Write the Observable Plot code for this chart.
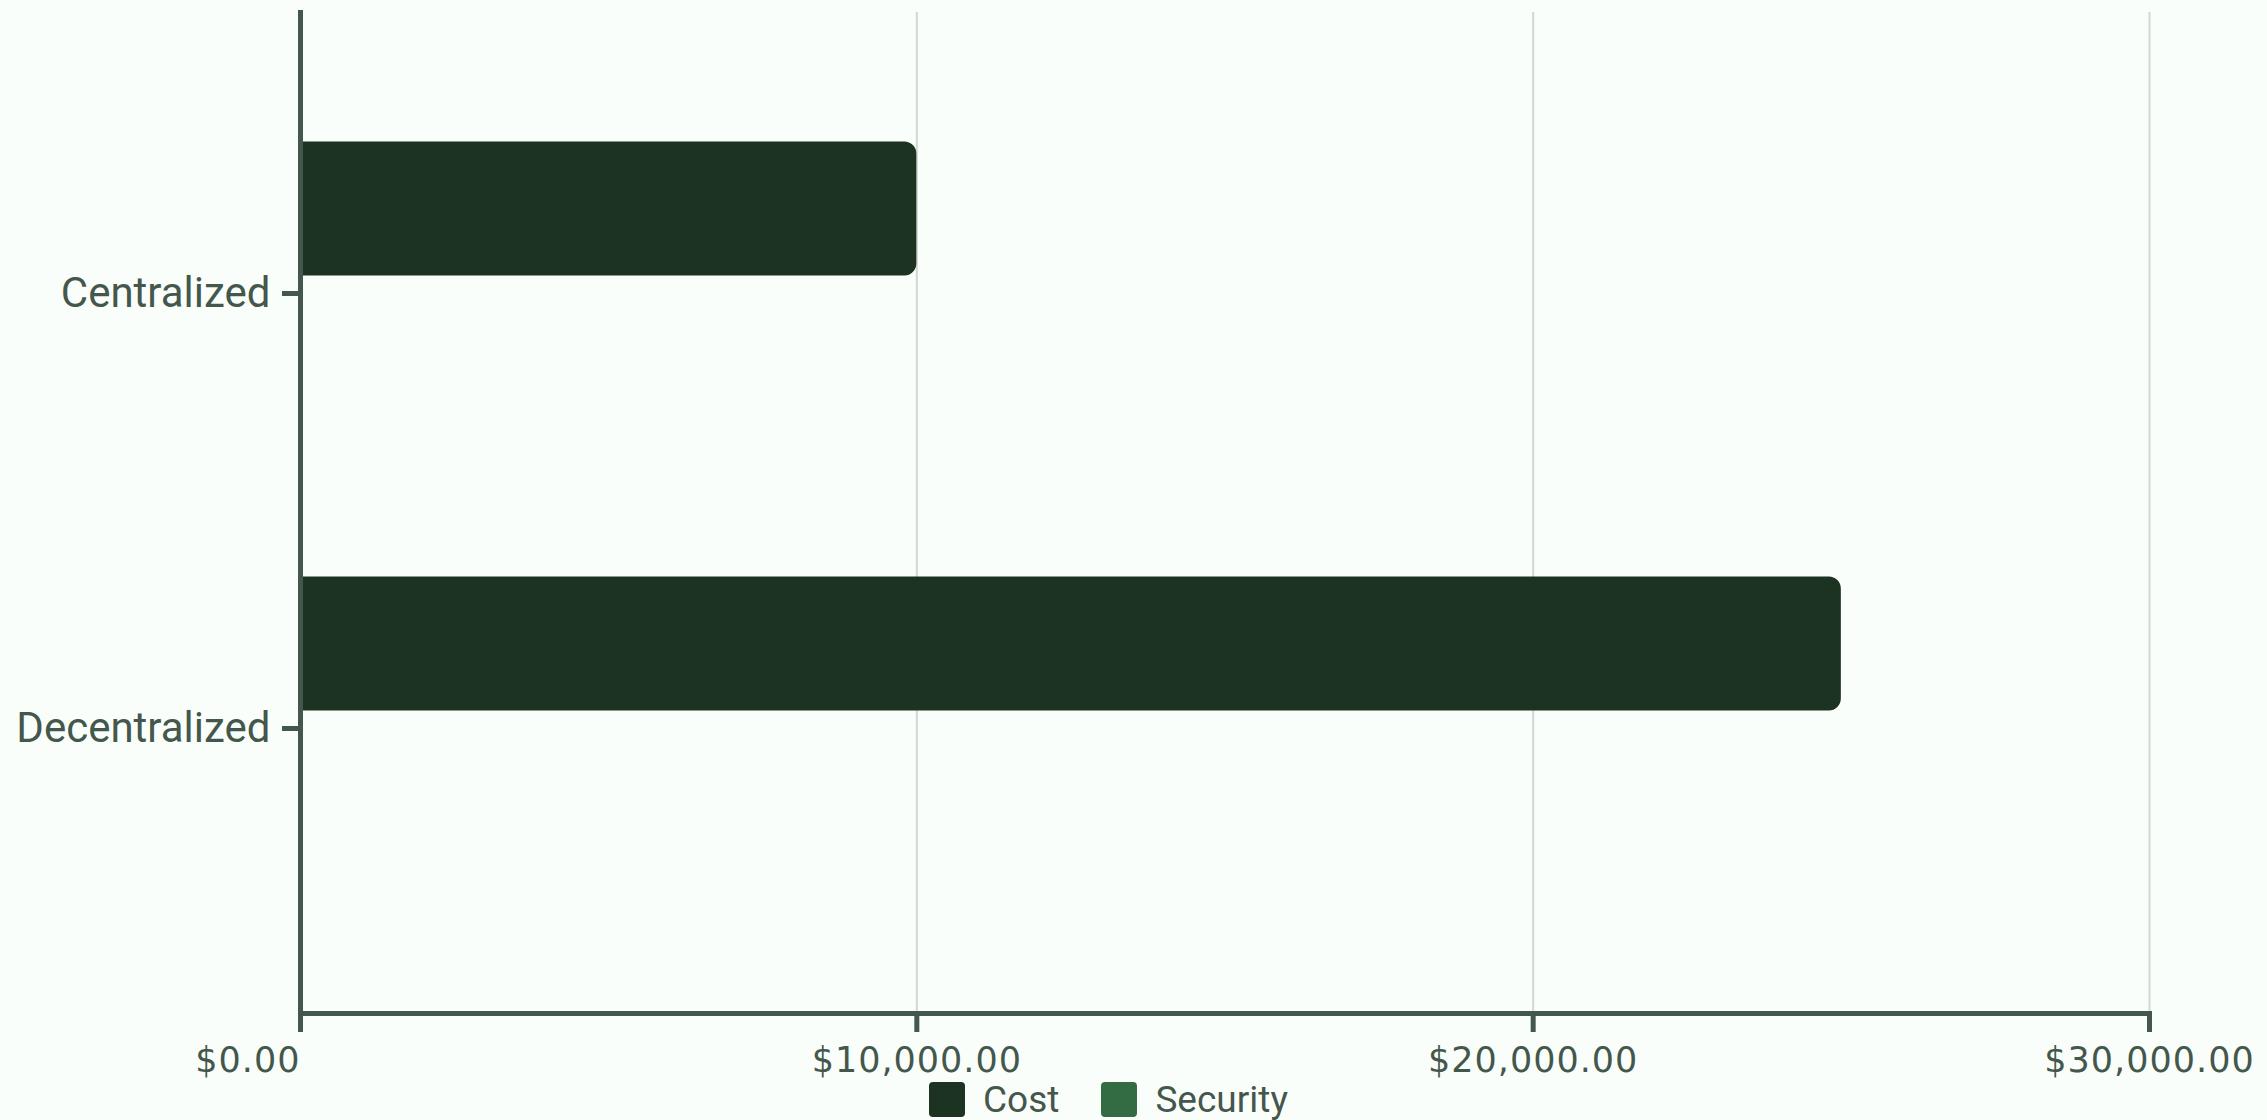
<!DOCTYPE html>
<html><head><meta charset="utf-8">
<script src="https://cdn.jsdelivr.net/npm/d3@7"></script>
<script src="https://cdn.jsdelivr.net/npm/@observablehq/plot@0.6"></script>
<style>
html,body{margin:0;padding:0;background:#fafefa;overflow:hidden;}
#wrap{position:relative;width:2267px;height:1120px;}
#legend{position:absolute;left:929px;top:1082px;height:35px;display:flex;align-items:center;font-family:Roboto,sans-serif;font-size:37px;color:#44574c;}
#legend .item{display:flex;align-items:center;margin-right:42px;}
#legend .sw{width:36px;height:35px;border-radius:4px;margin-right:18px;}
</style></head><body><div id="wrap"><div id="chart"></div><div id="legend"></div></div>
<script>
const categories = ["Centralized", "Decentralized"];
const series = ["Cost", "Security"];
const costValues = [10000, 25000];
const securityValues = [null, null];
const xTicks = [0, 10000, 20000, 30000];
const seriesColors = ["#1b3320", "#336b42"];

const axisColor = "#44574c";
const fmt = d3.format("$,.2f");

const costData = categories.map((c, i) => ({category: c, series: "Cost", value: costValues[i]}));
const secData = categories.map((c, i) => ({category: c, series: "Security", value: securityValues[i]})).filter(d => d.value != null);

const xAxisOpts = {tickFormat: fmt, tickSize: 19, tickPadding: 15, fontSize: 35, fontFamily: "DejaVu Sans", color: axisColor, strokeWidth: 5};

const plot = Plot.plot({
  width: 2267,
  height: 1080,
  marginLeft: 300,
  marginRight: 118,
  marginTop: 12,
  marginBottom: 67,
  style: {background: "transparent", fontFamily: "Roboto, sans-serif"},
  x: {domain: [0, 30000], label: null},
  y: {domain: categories, padding: 0.296, align: 0.494, label: null},
  color: {domain: series, range: seriesColors},
  marks: [
    Plot.gridX(xTicks, {stroke: "#d3d6d3", strokeOpacity: 1, strokeWidth: 2}),
    Plot.barX(costData, {x1: 0, x2: "value", y: "category", fill: "series", insetTop: 1.5, insetBottom: 170.4, rx2: 12}),
    Plot.barX(secData, {x1: 0, x2: "value", y: "category", fill: "series", insetTop: 170.4, insetBottom: 1.5, rx2: 12}),
    Plot.frame({anchor: "left", stroke: axisColor, strokeWidth: 5}),
    Plot.frame({anchor: "bottom", stroke: axisColor, strokeWidth: 5}),
    Plot.axisY({tickSize: 18, tickPadding: 12, fontSize: 42, fontFamily: "Roboto, sans-serif", color: axisColor, strokeWidth: 5}),
    Plot.axisX([xTicks[0]], {...xAxisOpts, textAnchor: "end"}),
    Plot.axisX(xTicks.slice(1), xAxisOpts)
  ]
});
d3.select(plot).selectAll('g[aria-label="x-axis tick label"] text').style("letter-spacing", "1px");
document.getElementById("chart").appendChild(plot);

const legend = d3.select("#legend");
series.forEach((s, i) => {
  const item = legend.append("div").attr("class", "item");
  item.append("div").attr("class", "sw").style("background", seriesColors[i]);
  item.append("span").text(s);
});
</script>
</body></html>
